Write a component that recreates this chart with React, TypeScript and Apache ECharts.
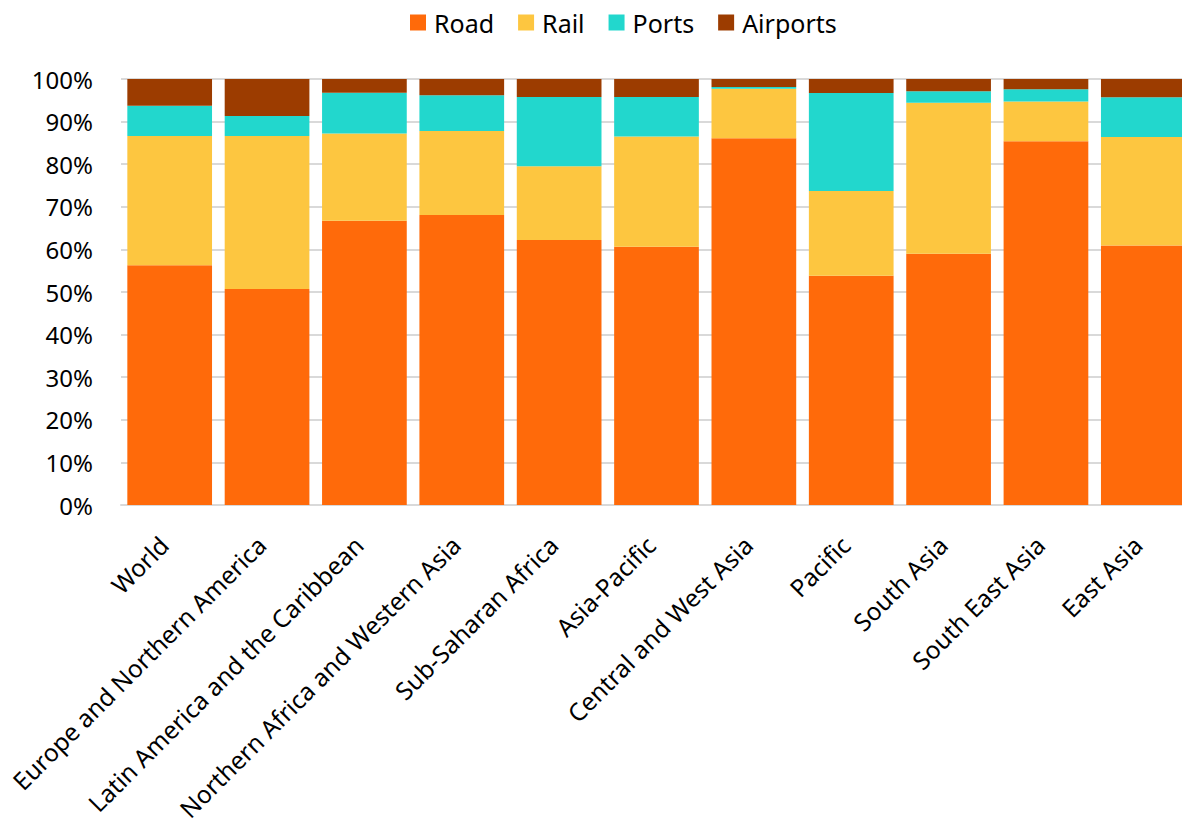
import React, { useEffect, useRef } from "react";
import * as echarts from "echarts";

const categories = [
  "World",
  "Europe and Northern America",
  "Latin America and the Caribbean",
  "Northern Africa and Western Asia",
  "Sub-Saharan Africa",
  "Asia-Pacific",
  "Central and West Asia",
  "Pacific",
  "South Asia",
  "South East Asia",
  "East Asia",
];

const road = [56.3, 50.7, 66.7, 68.1, 62.2, 60.6, 86.1, 53.8, 59.0, 85.4, 60.9];
const rail = [30.3, 35.9, 20.5, 19.7, 17.3, 25.9, 11.6, 19.9, 35.4, 9.3, 25.5];
const ports = [7.1, 4.7, 9.6, 8.4, 16.3, 9.3, 0.4, 23.0, 2.7, 2.9, 9.3];
const airports = [6.3, 8.7, 3.2, 3.8, 4.2, 4.2, 1.9, 3.3, 2.9, 2.4, 4.3];

const seriesNames = ["Road", "Rail", "Ports", "Airports"];
const seriesColors = ["#ff6a0a", "#fdc640", "#22d7cd", "#9c3c00"];
const seriesData = [road, rail, ports, airports];

const FONT = "'Noto Sans', 'Open Sans', sans-serif";

export default function App() {
  const ref = useRef<HTMLDivElement>(null);
  useEffect(() => {
    if (!ref.current) return;
    const chart = echarts.init(ref.current, undefined, { renderer: "svg" });
    chart.setOption({
      animation: false,
      textStyle: { fontFamily: FONT },
      legend: {
        top: 5,
        left: 405,
        itemWidth: 16,
        itemHeight: 16,
        itemGap: 24,
        icon: "rect",
        textStyle: { fontSize: 25, color: "#000", fontFamily: FONT, padding: [0, 0, 0, 3] },
        data: seriesNames,
      },
      grid: {
        left: 121,
        right: 0,
        top: 79,
        bottom: 322,
        containLabel: false,
        outerBoundsMode: "none",
      },
      xAxis: {
        type: "category",
        data: categories,
        axisTick: { show: false },
        axisLine: { lineStyle: { color: "#d9d9d9", width: 2 } },
        axisLabel: {
          rotate: 45,
          interval: 0,
          margin: 30,
          padding: [0, 8, 0, 0],
          fontSize: 24.5,
          color: "#000",
          fontFamily: FONT,
        },
      },
      yAxis: {
        type: "value",
        min: 0,
        max: 100,
        interval: 10,
        axisLine: { show: false },
        axisTick: { show: false },
        splitLine: { lineStyle: { color: "#d9d9d9", width: 2 } },
        axisLabel: {
          formatter: "{value}%",
          fontSize: 24,
          color: "#000",
          margin: 28,
          fontFamily: FONT,
        },
      },
      series: seriesNames.map((name, i) => ({
        name,
        type: "bar",
        stack: "total",
        barCategoryGap: "13%",
        data: seriesData[i],
        itemStyle: { color: seriesColors[i] },
      })),
    });
    return () => chart.dispose();
  }, []);
  return (
    <div
      ref={ref}
      style={{ position: "fixed", left: 0, top: 0, width: 1192, height: 827, background: "#fff" }}
    />
  );
}
